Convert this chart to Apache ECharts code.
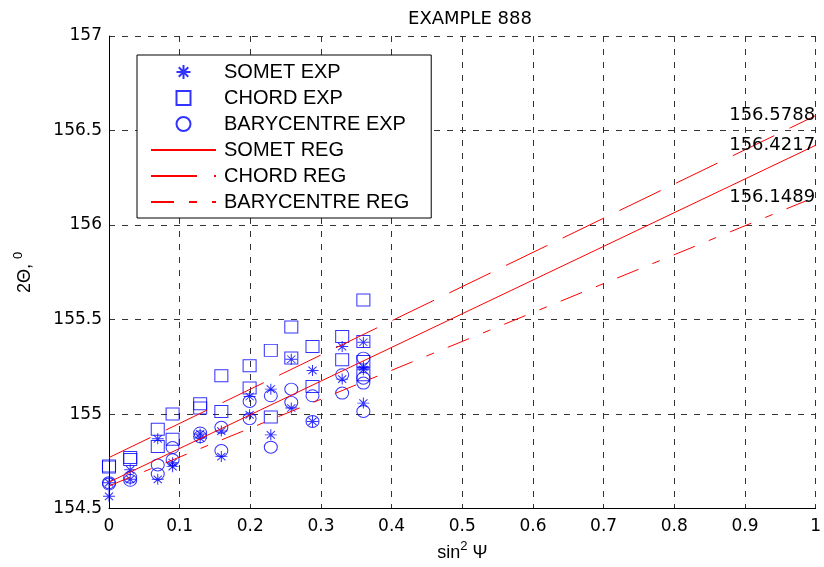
<!DOCTYPE html>
<html>
<head>
<meta charset="utf-8">
<script src="https://cdn.jsdelivr.net/npm/echarts@6/dist/echarts.min.js"></script>
<style>
html,body{margin:0;padding:0;background:#fff;}
#c{width:824px;height:567px;}
</style>
</head>
<body>
<div id="c"></div>
<script>
// sin^2(psi) positions of each measurement (one entry per point)
const sometX = [0,0, 0.03,0.03, 0.069,0.069, 0.09,0.09, 0.129,0.129, 0.159,0.159, 0.199,0.199, 0.229,0.229, 0.258,0.258, 0.288,0.288, 0.33,0.33, 0.36,0.36,0.36,0.36];
const sometY = [154.637,154.565, 154.705,154.655, 154.869,154.655, 154.743,154.722, 154.895,154.873, 154.910,154.775, 155.093,154.996, 155.132,154.890, 155.290,155.032, 155.231,154.961, 155.357,155.185, 155.380,155.250,155.235,155.058];

const chordX = [0,0, 0.03,0.03, 0.069,0.069, 0.09,0.09, 0.129,0.129, 0.159,0.159, 0.199,0.199, 0.229,0.229, 0.258,0.258, 0.288,0.288, 0.33,0.33, 0.36,0.36,0.36,0.36];
const chordY = [154.726,154.720, 154.770,154.760, 154.920,154.828, 155.000,154.867, 155.055,155.032, 155.203,155.014, 155.256,155.138, 155.337,154.984, 155.461,155.297, 155.358,155.146, 155.410,155.287, 155.604,155.384,155.278,155.208];

const baryX = [0,0, 0.03,0.03, 0.069,0.069, 0.09,0.09, 0.129,0.129, 0.159,0.159, 0.199,0.199, 0.229,0.229, 0.258,0.258, 0.288,0.288, 0.33,0.33, 0.36,0.36,0.36,0.36];
const baryY = [154.637,154.630, 154.666,154.650, 154.731,154.683, 154.823,154.758, 154.900,154.880, 154.930,154.807, 155.067,154.976, 155.097,154.825, 155.132,155.062, 155.097,154.961, 155.208,155.111, 155.296,155.190,155.164,155.014];

// regression lines: value at x = 0 and x = 1
const regX = [0, 1];
const sometReg = [154.640, 156.4217];
const chordReg = [154.770, 156.5788];
const baryReg  = [154.620, 156.1489];

const xTickLabels = ['0','0.1','0.2','0.3','0.4','0.5','0.6','0.7','0.8','0.9','1'];
const yTickLabels = ['154.5','155','155.5','156','156.5','157'];

const titleText = 'EXAMPLE 888';
const names = ['SOMET EXP','CHORD EXP','BARYCENTRE EXP','SOMET REG','CHORD REG','BARYCENTRE REG'];

const BLUE = '#0000ff';
const RED = '#ff0000';
const zip = (xs, ys) => xs.map((x, i) => [x, ys[i]]);
const starPath = 'path://M5,0L5,10M0,5L10,5M1.6,1.6L8.4,8.4M1.6,8.4L8.4,1.6';
const squarePath = 'path://M0,0L10,0L10,10L0,10Z';

const chart = echarts.init(document.getElementById('c'), null, {renderer: 'canvas'});
const markerStyle = {color: 'transparent', borderColor: BLUE, borderWidth: 1};
const hiddenSym = {color: 'transparent', borderColor: 'transparent', borderWidth: 0, opacity: 0};

chart.setOption({
  animation: false,
  backgroundColor: '#fff',
  title: {
    text: titleText, left: 465, top: 5, textAlign: 'center',
    textStyle: {fontFamily: 'DejaVu Sans', fontSize: 18, fontWeight: 'normal', color: '#000'}
  },
  grid: {left: 109, right: 3, top: 36, bottom: 58, containLabel: false},
  legend: {
    orient: 'vertical', left: 137, top: 55, z: 10,
    data: [
      {name: names[0]},
      {name: names[1]},
      {name: names[2]},
      {name: names[3], itemStyle: hiddenSym},
      {name: names[4], itemStyle: hiddenSym},
      {name: names[5], itemStyle: hiddenSym}
    ],
    backgroundColor: '#fff', borderColor: '#000', borderWidth: 1,
    padding: [7, 22, 6, 13],
    itemWidth: 65, itemHeight: 14, itemGap: 6,
    textStyle: {fontFamily: 'Liberation Sans', fontSize: 20, lineHeight: 20, color: '#000', padding: [0,0,0,3]}
  },
  xAxis: {
    type: 'value', min: 0, max: 1, interval: 0.1,
    name: 'sin{sup|2} Ψ', nameLocation: 'middle', nameGap: 29,
    nameTextStyle: {fontFamily: 'Liberation Sans', fontSize: 18, color: '#000',
      rich: {sup: {fontFamily: 'Liberation Sans', fontSize: 13, color: '#000', padding: [0,0,14,0]}}},
    axisLine: {show: true, onZero: false, lineStyle: {color: '#000', width: 1}},
    axisTick: {show: false},
    axisLabel: {margin: 9, fontFamily: 'DejaVu Sans', fontSize: 17, color: '#000',
      formatter: (v, i) => xTickLabels[i]},
    splitLine: {show: true, lineStyle: {color: '#333', type: [6, 7], width: 1}}
  },
  yAxis: {
    type: 'value', min: 154.5, max: 157, interval: 0.5,
    name: '2Θ, {sup|0}', nameLocation: 'middle', nameGap: 70, nameRotate: 90,
    nameTextStyle: {fontFamily: 'Liberation Sans', fontSize: 18, color: '#000',
      rich: {sup: {fontFamily: 'Liberation Sans', fontSize: 13, color: '#000', padding: [0,0,14,0]}}},
    axisLine: {show: true, onZero: false, lineStyle: {color: '#000', width: 1}},
    axisTick: {show: false},
    axisLabel: {margin: 7, fontFamily: 'DejaVu Sans', fontSize: 17, color: '#000',
      formatter: (v, i) => yTickLabels[i]},
    splitLine: {show: true, lineStyle: {color: '#333', type: [6, 7], width: 1}}
  },
  series: [
    {name: names[0], type: 'scatter', data: zip(sometX, sometY), symbol: starPath, symbolSize: [12, 11], itemStyle: markerStyle, z: 3},
    {name: names[1], type: 'scatter', data: zip(chordX, chordY), symbol: squarePath, symbolSize: [13, 12], itemStyle: markerStyle, z: 3},
    {name: names[2], type: 'scatter', data: zip(baryX, baryY), symbol: 'circle', symbolSize: [13, 12], itemStyle: markerStyle, z: 3},
    {name: names[3], type: 'line', data: zip(regX, sometReg), symbol: 'none', lineStyle: {color: RED, width: 1, type: 'solid'}, itemStyle: {color: RED}, z: 4},
    {name: names[4], type: 'line', data: zip(regX, chordReg), symbol: 'none', lineStyle: {color: RED, width: 1, type: [46, 17]}, itemStyle: {color: RED}, z: 4},
    {name: names[5], type: 'line', data: zip(regX, baryReg), symbol: 'none', lineStyle: {color: RED, width: 1, type: [23, 15, 8, 15]}, itemStyle: {color: RED}, z: 4},
    {name: 'endValues', type: 'scatter', silent: true, z: 5,
      data: [[regX[1], chordReg[1]], [regX[1], sometReg[1]], [regX[1], baryReg[1]]],
      symbolSize: 1, itemStyle: {color: 'transparent'},
      label: {show: true, position: 'left', distance: 0, fontFamily: 'DejaVu Sans', fontSize: 18, color: '#000', opacity: 1,
        formatter: p => p.value[1].toFixed(4)}}
  ]
});
</script>
</body>
</html>
